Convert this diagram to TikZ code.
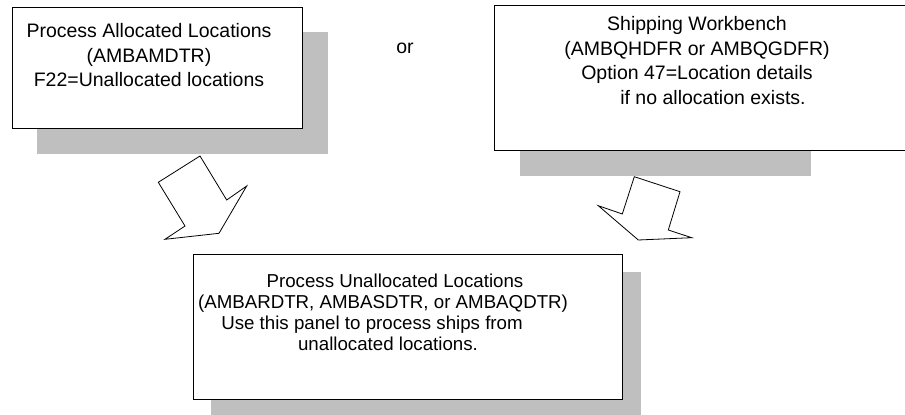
\documentclass[tikz,border=0pt]{standalone}
\usepackage{fontspec}
\setmainfont{Liberation Sans}
\usetikzlibrary{positioning,backgrounds}

\begin{document}
\begin{tikzpicture}[
    x=1pt, y=-1pt,
    panel/.style={rectangle,draw,fill=white,line width=1pt,inner sep=0pt},
    txt/.style={align=center,inner sep=0pt,font=\fontsize{19.5}{24.5}\selectfont},
    shade/.style={fill=black!25},
    bigarrow/.style={draw,fill=white,line width=0.8pt,line join=miter}]
  \useasboundingbox (0,0) rectangle (905,415);
  % ---- the three panels ----
  \node[panel,minimum width=290pt,minimum height=121pt] (alloc)   at (157,67.5)  {};
  \node[panel,minimum width=426pt,minimum height=145pt] (ship)    at (707,77.5)  {};
  \node[panel,minimum width=429pt,minimum height=145pt] (unalloc) at (407.5,326.5) {};
  % panel texts
  \node[txt,below=17pt of alloc.north,xshift=-8pt] (alloctxt)
    {Process Allocated Locations\\(AMBAMDTR)\\F22=Unallocated locations};
  \node[txt,below=12pt of ship.north,xshift=-10pt] (shiptxt)
    {Shipping Workbench\\(AMBQHDFR or AMBQGDFR)\\Option 47=Location details\\
     \hspace*{32pt}if no allocation exists.};
  \node[txt,font=\fontsize{18.7}{21}\selectfont,below=20pt of unalloc.north,xshift=-35.5pt] (unalloctxt)
    {\hspace*{46pt}Process Unallocated Locations\\
     \hspace*{22pt}(AMBARDTR, AMBASDTR, or AMBAQDTR)\\
     Use this panel to process ships from\\
     \hspace*{32pt}unallocated locations.};
  \node[txt] (ortxt) at (405,48) {or};
  % grey shadows behind the panels
  \begin{scope}[on background layer]
    \fill[shade] ([shift={(25,25)}]alloc.north west) rectangle ([shift={(25,25)}]alloc.south east);
    \fill[shade] ([shift={(26,25)}]ship.north west) rectangle ++(291,146);
    \fill[shade] ([shift={(18,18)}]unalloc.north west) rectangle ([shift={(18,18)}]unalloc.south east);
  \end{scope}
  % ---- block arrows down to the lower panel ----
  \draw[bigarrow] (200,156) -- (226.7,200) -- (246.7,186) -- (219,233.3)
    -- (165,239.3) -- (185,226) -- (158.3,182.3) -- cycle;   % left
  \draw[bigarrow] (634.3,176.7) -- (680,191.7) -- (668.3,230) -- (691.7,237.7)
    -- (638.3,240) -- (598.3,205.7) -- (622.3,214) -- cycle; % right
\end{tikzpicture}
\end{document}
